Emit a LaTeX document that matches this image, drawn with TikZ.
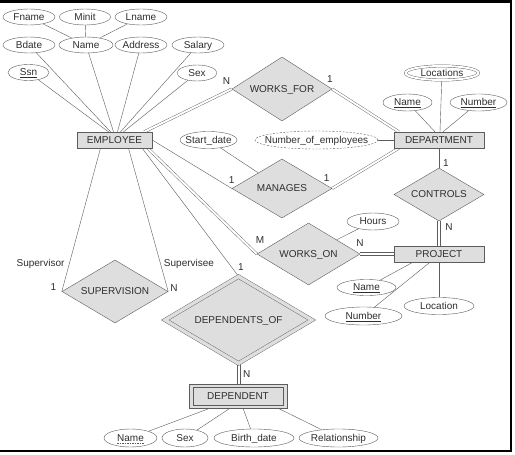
\documentclass[tikz,border=0pt]{standalone}
\usepackage{fontspec}
\setmainfont{Liberation Sans}
\usetikzlibrary{shapes.geometric}
\pgfdeclarelayer{bg}
\pgfsetlayers{bg,main}
\definecolor{ln}{gray}{0.36}
\definecolor{fl}{gray}{0.87}
\definecolor{tx}{gray}{0.18}
\newcommand\atx[1]{\makebox[0pt]{#1}}
\begin{document}
\begin{tikzpicture}[x=1pt,y=-1pt,
  font=\fontsize{10}{12}\selectfont, text=tx, line width=0.65pt,
  base/.style={inner sep=0pt, text height=7.2pt, text depth=0.5pt},
  ell/.style 2 args={base, ellipse, draw=ln, fill=white, minimum width=#1pt, minimum height=#2pt},
  ent/.style 2 args={base, rectangle, draw=ln, fill=fl, minimum width=#1pt, minimum height=#2pt},
  rel/.style 2 args={base, diamond, draw=ln, fill=fl, minimum width=#1pt, minimum height=#2pt},
  lbl/.style={base},
  conn/.style={draw=ln},
  dconn/.style={draw=ln, double=white, double distance=2pt}]
\useasboundingbox (0,0) rectangle (515,455);
\begin{pgfonlayer}{bg}
\fill[white] (0,0) rectangle (515,455);
\end{pgfonlayer}
\draw[line width=2.5pt, miter limit=10] (0,1.25) -- (511.2,1.25) -- (511.2,450.8) -- (0,450.8);

% attributes
\node[ell={52}{16}] (fname) at (29,17) {\atx{Fname}};
\node[ell={51}{16}] (minit) at (85,17) {\atx{Minit}};
\node[ell={52}{16}] (lname) at (141,17) {\atx{Lname}};
\node[ell={52}{16}] (bdate) at (29,45) {\atx{Bdate}};
\node[ell={54}{16}] (ename) at (86,45) {\atx{Name}};
\node[ell={52}{16}] (addr) at (141,45) {\atx{Address}};
\node[ell={52}{16}] (salary) at (198,45) {\atx{Salary}};
\node[ell={41}{16}] (ssn) at (28.5,72.5) {\atx{\underline{Ssn}}};
\node[ell={40}{16}] (esex) at (197,73) {\atx{Sex}};
\node[ell={73}{14}, double=white, double distance=2pt] (locs) at (442,73) {\atx{Locations}};
\node[ell={49}{17}] (dname) at (407.5,102.5) {\atx{\underline{Name}}};
\node[ell={57}{17}] (dnum) at (478.5,102.5) {\atx{\underline{Number}}};
\node[ell={123}{18}, dash pattern=on 2pt off 1.5pt] (noe) at (316.5,140) {\atx{Number\_of\_employees}};
\node[ell={57}{17}] (sdate) at (208.5,140) {\atx{Start\_date}};
\node[ell={52}{17}] (hours) at (373,221.5) {\atx{Hours}};
\node[ell={59}{16}] (pname) at (366.5,287.5) {\atx{\underline{Name}}};
\node[ell={77}{18}] (pnum) at (363.5,316) {\atx{\underline{Number}}};
\node[ell={70}{17}] (ploc) at (439,306) {\atx{Location}};
\node[ell={53}{18}] (dpname) at (130.5,438) {\atx{Name}};
\draw[ln, line width=0.5pt, dash pattern=on 1.5pt off 1pt] ([xshift=-13.3pt,yshift=-5pt]dpname.center) -- ([xshift=13.3pt,yshift=-5pt]dpname.center);
\node[ell={46}{18}] (dpsex) at (185,438) {\atx{Sex}};
\node[ell={80}{18}] (dpbirth) at (254,438) {\atx{Birth\_date}};
\node[ell={79}{18}] (dprel) at (338.5,438) {\atx{Relationship}};

% entities
\node[ent={75}{16}] (emp) at (114.5,140) {\atx{EMPLOYEE}};
\node[ent={90}{16}] (dept) at (439,140) {\atx{DEPARTMENT}};
\node[ent={90}{16}] (proj) at (439,254) {\atx{PROJECT}};
\node[ent={98}{24}] (dep) at (238,396) {\atx{DEPENDENT}};
\draw[ln] ([xshift=4pt,yshift=-3.5pt]dep.north west) rectangle ([xshift=-4pt,yshift=3.5pt]dep.south east);

% relationships
\node[rel={100}{64}] (wf) at (282,89) {\atx{WORKS\_FOR}};
\node[rel={100}{59}] (mg) at (282,188.5) {\atx{MANAGES}};
\node[rel={90}{53}] (ctl) at (439,194.5) {\atx{CONTROLS}};
\node[rel={103}{62}] (wo) at (308.5,254) {\atx{WORKS\_ON}};
\node[rel={106}{63}] (sup) at (115,291.5) {\atx{SUPERVISION}};
\node[rel={147}{87}, double=fl, double distance=3.4pt] (dof) at (238.5,320) {\atx{DEPENDENTS\_OF}};

% labels
\node[lbl] (lwfa) at (226.5,81.5) {N};
\node[lbl] (lwfb) at (330,79) {1};
\node[lbl] (lmga) at (231.7,180) {1};
\node[lbl] (lmgb) at (326.7,178.3) {1};
\node[lbl] (lctla) at (446,163) {1};
\node[lbl] (lctlb) at (449,226.7) {N};
\node[lbl] (lwoa) at (260,240.5) {M};
\node[lbl] (lwob) at (360,243.3) {N};
\node[lbl] (lsupa) at (53.3,287.3) {1};
\node[lbl] (lsupb) at (174,288.3) {N};
\node[lbl] (ldofa) at (241,266.7) {1};
\node[lbl] (ldofb) at (246.7,374) {N};
\node[lbl] (lsvr) at (40.5,263) {Supervisor};
\node[lbl] (lsve) at (189,263) {Supervisee};

\begin{pgfonlayer}{bg}
% composite Name
\draw[conn] (fname) -- (ename);
\draw[conn] (minit) -- (ename);
\draw[conn] (lname) -- (ename);
% employee attributes
\draw[conn] (ssn) -- ([xshift=-6pt]emp.north);
\draw[conn] (bdate) -- ([xshift=-4pt]emp.north);
\draw[conn] (ename) -- ([xshift=-1pt]emp.north);
\draw[conn] (addr) -- ([xshift=3pt]emp.north);
\draw[conn] (salary) -- ([xshift=6pt]emp.north);
\draw[conn] (esex) -- ([xshift=9pt]emp.north);
% department attributes
\draw[conn] (locs) -- ([xshift=1pt]dept.north);
\draw[conn] (dname) -- ([xshift=-4pt]dept.north);
\draw[conn] (dnum) -- ([xshift=4pt]dept.north);
\draw[conn] (noe.east) -- (dept.west);
% relationships
\draw[dconn] ([xshift=-8pt]emp.north east) -- (wf.west);
\draw[dconn] (wf.east) -- ([xshift=5pt]dept.north west);
\draw[conn] (emp.east) -- (mg.west);
\draw[dconn] (mg.east) -- ([xshift=5pt]dept.south west);
\draw[conn] (sdate) -- (mg);
\draw[conn] (dept.south) -- (ctl.north);
\draw[conn] ([xshift=-1.4pt]ctl.south) -- ([xshift=-1.4pt]proj.north);
\draw[conn] ([xshift=1.4pt]ctl.south) -- ([xshift=1.4pt]proj.north);
\draw[dconn] ([xshift=-4.5pt]emp.south east) -- (wo.west);
\draw[conn] ([yshift=1.4pt]wo.east) -- ([yshift=1.4pt]proj.west);
\draw[conn] ([yshift=-1.4pt]wo.east) -- ([yshift=-1.4pt]proj.west);
\draw[conn] (hours) -- (wo);
\draw[conn] (pname) -- ([xshift=-26pt]proj.south);
\draw[conn] (pnum) -- ([xshift=-9pt]proj.south);
\draw[conn] (ploc.north) -- (proj.south);
\draw[conn] ([xshift=-14pt]emp.south) -- (sup.west);
\draw[conn] ([xshift=14pt]emp.south) -- (sup.east);
\draw[conn] ([xshift=-10pt]emp.south east) -- (dof.north);
\draw[conn] ([xshift=-1.4pt]dof.south) -- ([xshift=-1.4pt]dof.south |- dep.north);
\draw[conn] ([xshift=1.4pt]dof.south) -- ([xshift=1.4pt]dof.south |- dep.north);
\draw[conn] (dpname) -- ([xshift=-28pt]dep.south);
\draw[conn] (dpsex) -- ([xshift=-8pt]dep.south);
\draw[conn] (dpbirth) -- ([xshift=5pt]dep.south);
\draw[conn] (dprel) -- ([xshift=40pt]dep.south);
\end{pgfonlayer}
\end{tikzpicture}
\end{document}
